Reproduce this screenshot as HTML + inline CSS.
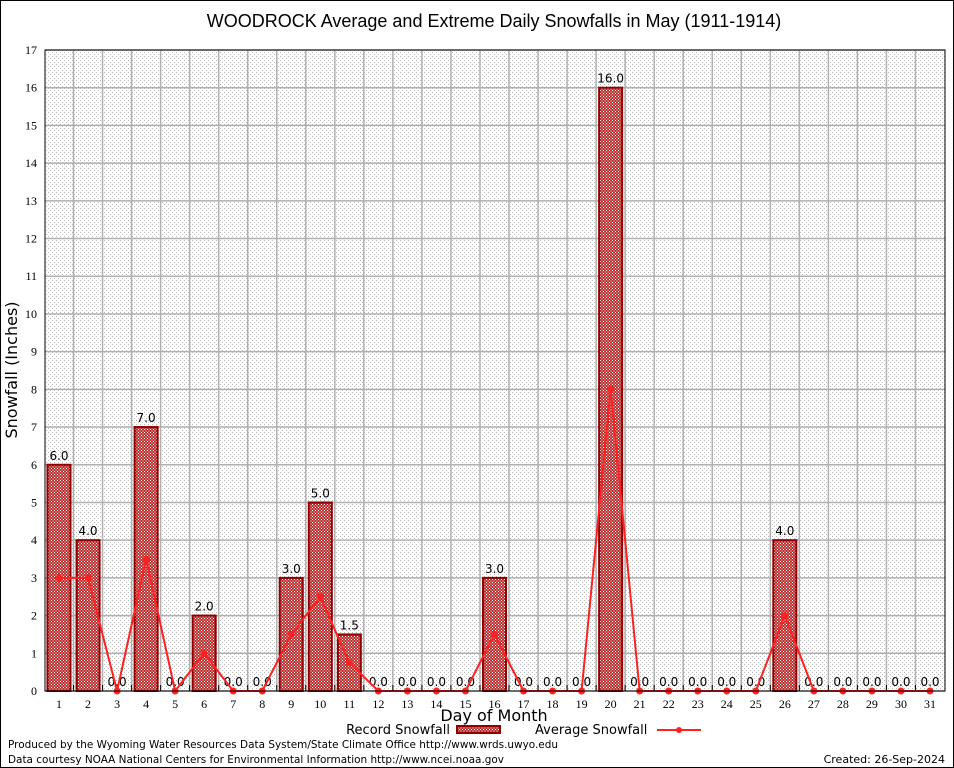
<!DOCTYPE html>
<html><head><meta charset="utf-8"><style>
html,body{margin:0;padding:0;background:#fff}
svg{display:block;font-family:"DejaVu Sans","Liberation Sans",sans-serif}
</style></head><body>
<svg id="chart" width="954" height="768" viewBox="0 0 954 768">
<defs>
<pattern id="dots" width="4" height="4" patternUnits="userSpaceOnUse"><rect x="0" y="0" width="1" height="1" fill="#bbb"/><rect x="2" y="2" width="1" height="1" fill="#bbb"/></pattern>
<pattern id="check" width="3" height="3" patternUnits="userSpaceOnUse"><rect width="3" height="3" fill="#b83030"/><rect x="0" y="0" width="1" height="1" fill="#fff"/><rect x="1.5" y="1.5" width="1" height="1" fill="#fff"/></pattern>
</defs>
<rect x="0.5" y="0.5" width="953" height="767" fill="#fff" stroke="#000"/>
<text x="494" y="27" font-size="18" text-anchor="middle" font-family="Liberation Sans, sans-serif">WOODROCK Average and Extreme Daily Snowfalls in May (1911-1914)</text>
<rect x="45" y="50" width="900" height="641" fill="url(#dots)"/>
<g id="grid"></g>
<g id="bars"></g>
<g id="line"></g>
<rect x="45" y="50" width="900" height="641" fill="none" stroke="#000"/>
<g id="axes" font-family="Liberation Serif, serif" font-size="12"></g>
<text x="17" y="370" font-size="16" text-anchor="middle" transform="rotate(-90 17 370)">Snowfall (Inches)</text>
<text x="494" y="721" font-size="16" text-anchor="middle">Day of Month</text>
<g>
<text x="450" y="734" font-size="13" text-anchor="end">Record Snowfall</text>
<rect x="457" y="726" width="43" height="7" fill="url(#check)" stroke="#900000" stroke-width="2"/>
</g>
<g>
<text x="535" y="734" font-size="13">Average Snowfall</text>
<line x1="657" y1="730" x2="701" y2="730" stroke="#ff2020" stroke-width="2"/>
<circle cx="679" cy="730" r="3" fill="#ff2020"/>
</g>
<text x="8" y="748" font-size="11" textLength="550" lengthAdjust="spacingAndGlyphs">Produced by the Wyoming Water Resources Data System/State Climate Office http://www.wrds.uwyo.edu</text>
<text x="8" y="763" font-size="11" textLength="496" lengthAdjust="spacingAndGlyphs">Data courtesy NOAA National Centers for Environmental Information http://www.ncei.noaa.gov</text>
<text x="945" y="763" font-size="11" text-anchor="end">Created: 26-Sep-2024</text>
</svg>
<script>
const days=[1,2,3,4,5,6,7,8,9,10,11,12,13,14,15,16,17,18,19,20,21,22,23,24,25,26,27,28,29,30,31];
const recordValues=[6,4,0,7,0,2,0,0,3,5,1.5,0,0,0,0,3,0,0,0,16,0,0,0,0,0,4,0,0,0,0,0];
const averageValues=[3,3,0,3.5,0,1,0,0,1.5,2.5,0.75,0,0,0,0,1.5,0,0,0,8,0,0,0,0,0,2,0,0,0,0,0];
const yTicks=[0,1,2,3,4,5,6,7,8,9,10,11,12,13,14,15,16,17];
const NS="http://www.w3.org/2000/svg";
const x=d=>59+(d-1)*29.033;
const y=v=>691-v*(641/17);
function mk(t,a,p){const e=document.createElementNS(NS,t);for(const k in a)e.setAttribute(k,a[k]);p.appendChild(e);return e;}
const grid=document.getElementById('grid'),bars=document.getElementById('bars'),line=document.getElementById('line'),axes=document.getElementById('axes');
yTicks.forEach(v=>{
 const g=mk('line',{x1:45,x2:945,y1:y(v),y2:y(v),stroke:'#b0b0b0','stroke-width':1.5},grid);
 
 
 const t=mk('text',{x:37,y:y(v)+4,'text-anchor':'end'},axes);t.textContent=v;
 
 
});
days.forEach(d=>{
 if(d<31){const g=mk('line',{x1:x(d+0.5),x2:x(d+0.5),y1:50,y2:691,stroke:'#b0b0b0','stroke-width':1.5},grid);
 
 
 mk('line',{x1:x(d+0.5),x2:x(d+0.5),y1:685,y2:691,stroke:'#000'},axes);}
 const t=mk('text',{x:x(d),y:708,'text-anchor':'middle'},axes);t.textContent=d;
 
 
});
days.forEach((d,i)=>{
 const v=recordValues[i];
 if(v>0){const r=mk('rect',{x:x(d)-11.5,y:y(v),width:23,height:y(0)-y(v),fill:'url(#check)',stroke:'#900000','stroke-width':2},bars);
 
 }
 const t=mk('text',{x:x(d),y:y(v)-5,'text-anchor':'middle','font-size':12},bars);t.textContent=v.toFixed(1);
 
 
});
const pl=mk('polyline',{points:days.map((d,i)=>x(d)+','+y(averageValues[i])).join(' '),fill:'none',stroke:'#ff2020','stroke-width':2},line);


days.forEach((d,i)=>{
 const c=mk('circle',{cx:x(d),cy:y(averageValues[i]),r:3.5,fill:'#ff2020'},line);
 
 
});
</script>
</body></html>
